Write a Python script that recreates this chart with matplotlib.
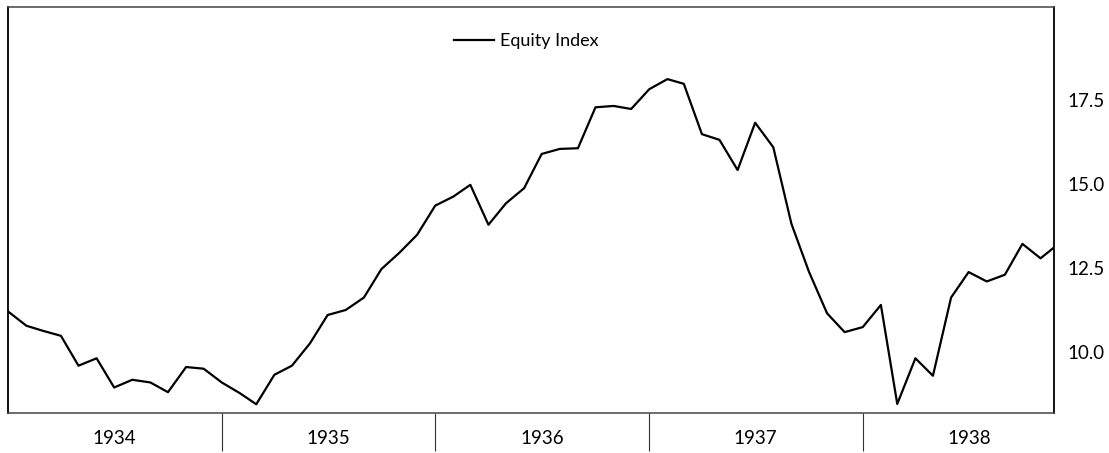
import matplotlib
matplotlib.use("Agg")
import matplotlib.pyplot as plt
import pandas as pd

# monthly equity index, Jan 1934 - Dec 1938
months = pd.date_range("1934-01-01", "1938-12-01", freq="MS")
equity = [
    11.19, 10.77, 10.62, 10.47, 9.58, 9.80, 8.93, 9.16, 9.08, 8.79, 9.54, 9.49,
    9.08, 8.76, 8.43, 9.31, 9.58, 10.25, 11.09, 11.24, 11.61, 12.46, 12.95, 13.48,
    14.35, 14.62, 14.97, 13.78, 14.42, 14.87, 15.89, 16.04, 16.06, 17.28, 17.32, 17.23,
    17.82, 18.12, 17.98, 16.48, 16.31, 15.41, 16.82, 16.09, 13.81, 12.38, 11.14, 10.58,
    10.73, 11.39, 8.44, 9.80, 9.28, 11.61, 12.37, 12.09, 12.29, 13.21, 12.78, 13.20,
]
years = [1934, 1935, 1936, 1937, 1938]
yticks = [10.0, 12.5, 15.0, 17.5]

plt.rcParams['font.family'] = ['Lato', 'DejaVu Sans']

fig = plt.figure(figsize=(11.09, 4.53), dpi=100)
ax = fig.add_axes([8.3/1109, 40/453, (1054-8.3)/1109, (413-7.3)/453])

ax.plot(months, equity, color='black', lw=1.6, label='Equity Index')

ax.set_xlim(pd.Timestamp("1934-01-01"), pd.Timestamp("1938-11-24"))
ax.set_ylim(8.17, 20.26)

# year separators as long ticks, year names centred between them
ax.set_xticks([pd.Timestamp(f"{y}-01-01") for y in years[1:]])
ax.xaxis.set_major_formatter(plt.NullFormatter())
ax.set_xticks([pd.Timestamp(f"{y}-07-02") for y in years], minor=True)
ax.set_xticklabels([str(y) for y in years], minor=True)
ax.tick_params(axis='x', which='major', length=27, width=0.8, color='#333333', direction='out')
ax.tick_params(axis='x', which='minor', length=0, pad=12, labelsize=13.5)

ax.yaxis.tick_right()
ax.set_yticks(yticks)
ax.set_yticklabels([f"{v:.1f}" for v in yticks])
ax.tick_params(axis='y', length=0, pad=10, labelsize=13.5)

for s in ['left', 'right']:
    ax.spines[s].set_linewidth(1.3)
    ax.spines[s].set_color('black')
for s in ['top', 'bottom']:
    ax.spines[s].set_linewidth(1.1)
    ax.spines[s].set_color('#444444')

ax.legend(loc='center', bbox_to_anchor=(0.4955, 0.916), frameon=False,
          fontsize=13, handlelength=2.2, handletextpad=0.35)

fig.savefig("out.png", dpi=100)
